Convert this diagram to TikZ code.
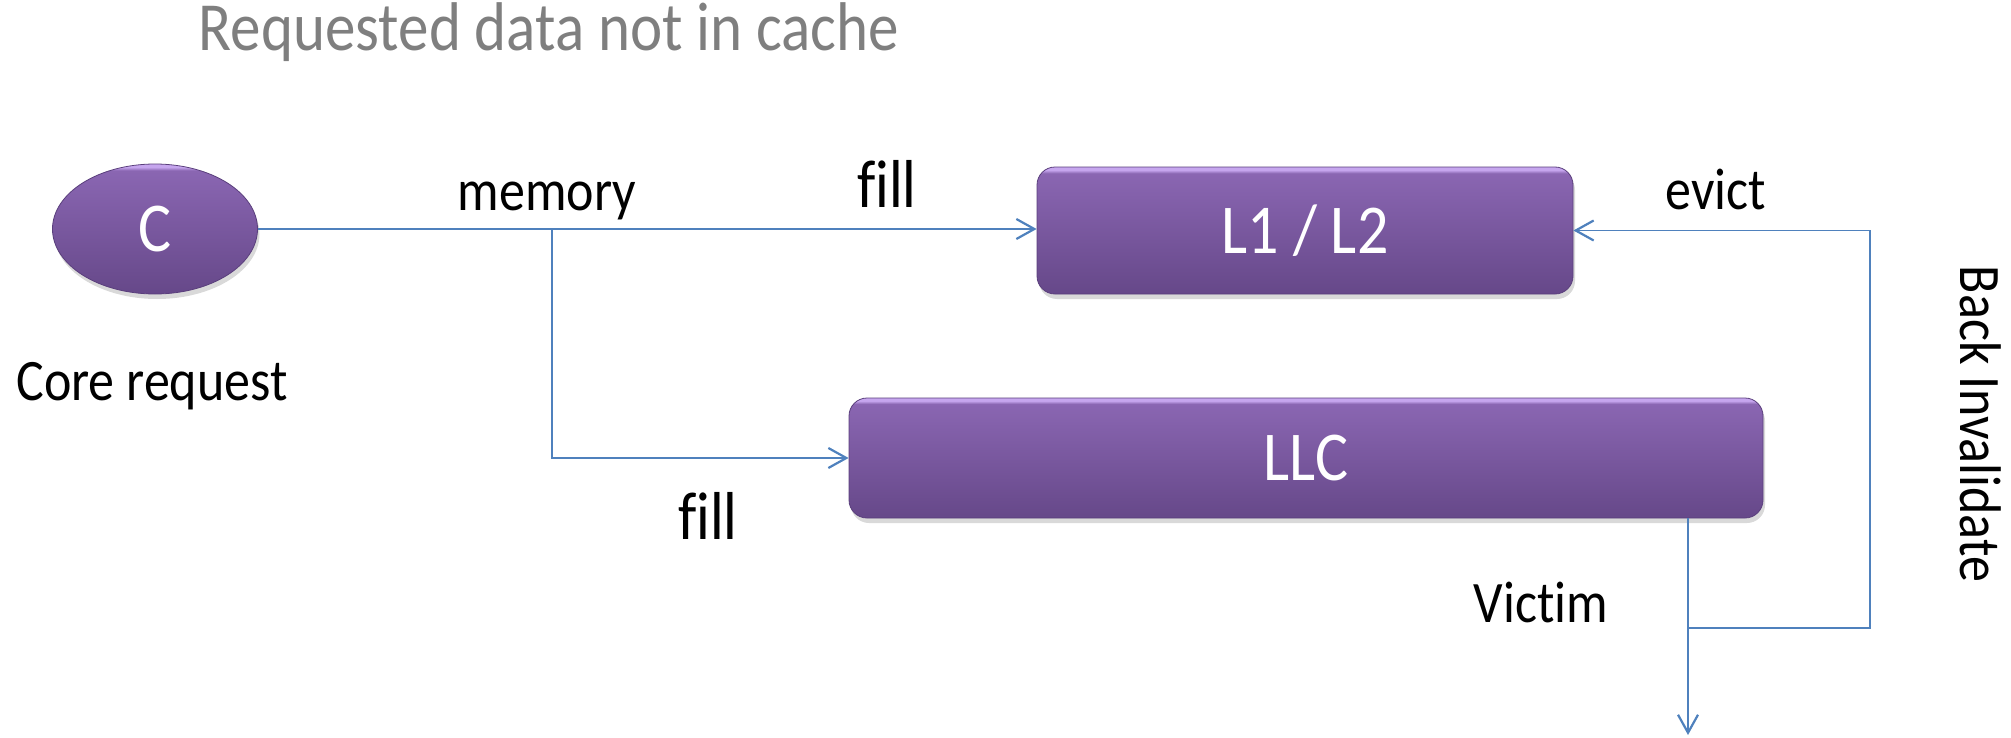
\documentclass[tikz,border=0pt]{standalone}
\usepackage{fontspec}
\setmainfont{Carlito}[Ligatures=NoCommon]
\usetikzlibrary{arrows.meta,shadows,shapes.geometric}
\definecolor{lnblue}{HTML}{4F81BD}
\definecolor{ptop}{HTML}{8A66B2}
\definecolor{pbot}{HTML}{664889}
\definecolor{plight}{HTML}{C6A6EE}
\definecolor{pedge}{HTML}{5A3F7C}
\definecolor{ttlgray}{HTML}{7F7F7F}
\pgfdeclareverticalshading{purp}{100bp}{color(0bp)=(pbot); color(25bp)=(pbot); color(72.5bp)=(ptop); color(73.8bp)=(plight); color(100bp)=(plight)}
\newcommand{\vstr}[1]{\scalebox{1}[1.13]{#1}}
\begin{document}
\begin{tikzpicture}[x=0.5pt,y=-0.5pt,
  purplebox/.style={rounded corners=9pt, shading=purp,
    draw=pedge, line width=0.4pt, text=white, inner sep=0pt,
    font=\fontsize{31}{36}\selectfont,
    drop shadow={opacity=0.3, shadow xshift=1pt, shadow yshift=-2.5pt}},
  purpleoval/.style={ellipse, shading=purp,
    draw=pedge, line width=0.4pt, text=white, inner sep=0pt,
    font=\fontsize{31}{36}\selectfont,
    drop shadow={opacity=0.3, shadow xshift=1pt, shadow yshift=-2.5pt}},
  lbl/.style={font=\fontsize{26}{30}\selectfont, inner sep=0pt, anchor=base},
  biglbl/.style={font=\fontsize{30}{34}\selectfont, inner sep=0pt, anchor=base},
  ttl/.style={font=\fontsize{30.5}{34}\selectfont, inner sep=0pt, anchor=base, text=ttlgray},
  conn/.style={draw=lnblue, line width=1.1pt},
  thinconn/.style={draw=lnblue, line width=0.9pt},
  arr/.style={-{Straight Barb[length=9pt,width=10pt,line width=1.1pt]}}
]
\useasboundingbox (0,0) rectangle (2011,738);

% title
\node[ttl] (title) at (549,51) {\vstr{Requested data not in cache}};

% shapes
\node[purpleoval, minimum width=102.5pt, minimum height=65pt] (C) at (155,229) {\vstr{C}};
\node[purplebox, minimum width=268pt, minimum height=63.5pt] (L1) at (1305,230.5) {\vstr{L1 / L2}};
\node[purplebox, minimum width=457pt, minimum height=60pt] (LLC) at (1306,458) {\vstr{LLC}};

% labels
\node[lbl] (mem) at (547,210) {\vstr{memory}};
\node[biglbl] (fillA) at (887,207) {\vstr{fill}};
\node[biglbl] (fillB) at (708,539) {\vstr{fill}};
\node[lbl] (core) at (152,400) {\vstr{Core request}};
\node[lbl] (evict) at (1716,209) {\vstr{evict}};
\node[lbl] (victim) at (1541,622) {\vstr{Victim}};
\node[lbl, rotate=-90] (backinv) at (1960,424) {\vstr{Back Invalidate}};

% connectors
\coordinate (br) at (552,229);
\coordinate (vx) at (1688,628);
\coordinate (vend) at (1688,735);
\coordinate (rb) at (1870,628);

\draw[conn,arr] (C.east) -- (C.east -| L1.west);
\draw[conn,arr] (br) |- (LLC.west);
\draw[conn,arr] (vx |- LLC.south) -- (vend);
\draw[thinconn,arr] (vx) -- (rb) -- (rb |- L1.east) -- (L1.east);
\end{tikzpicture}
\end{document}
